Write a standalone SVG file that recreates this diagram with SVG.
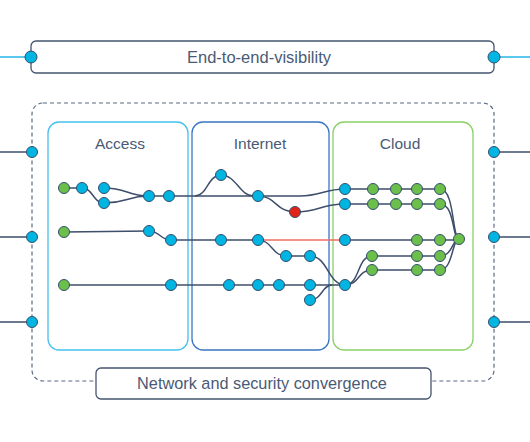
<svg xmlns="http://www.w3.org/2000/svg" width="530" height="442" viewBox="0 0 530 442">
<style>
.t{font-family:"Liberation Sans",Arial,sans-serif;fill:#4a5a76;text-anchor:middle;dominant-baseline:central}
.ln{fill:none;stroke:#3e4e6b;stroke-width:1.5}
.cy{fill:none;stroke:#29b5e8;stroke-width:1.5}
.b{fill:#00b5e2;stroke:#34506e;stroke-width:1}
.g{fill:#6cbf4a;stroke:#34506e;stroke-width:1}
.r{fill:#e2231a;stroke:#34506e;stroke-width:1}
</style>
<rect width="530" height="442" fill="#fff"/>
<g id="outer">
<rect x="32" y="103" width="462" height="278" rx="11" fill="none" stroke="#5b6b85" stroke-width="1.2" stroke-dasharray="4,3"/>
</g>
<g id="sidelines">
<path class="cy" d="M0,57H31M494,57H530"/>
<path class="ln" d="M0,152H32M0,237H32M0,322H32M494,152H530M494,237H530M494,322H530" stroke-width="1.3"/>
</g>
<g id="top-bar">
<rect x="31" y="41" width="463" height="32" rx="5" fill="#fff" stroke="#44546f" stroke-width="1.3"/>
<text class="t" x="259" y="57" font-size="16.5">End-to-end-visibility</text>
<circle class="b" cx="31" cy="57" r="6"/>
<circle class="b" cx="494" cy="57" r="6"/>
</g>
<g id="bottom-bar">
<rect x="96" y="368" width="335" height="31" rx="5" fill="#fff" stroke="#44546f" stroke-width="1.3"/>
<text class="t" x="262" y="383" font-size="16.3">Network and security convergence</text>
</g>
<g id="side-ports">
<circle class="b" cx="32" cy="152" r="5.5"/>
<circle class="b" cx="32" cy="237" r="5.5"/>
<circle class="b" cx="32" cy="322" r="5.5"/>
<circle class="b" cx="494" cy="152" r="5.5"/>
<circle class="b" cx="494" cy="237" r="5.5"/>
<circle class="b" cx="494" cy="322" r="5.5"/>
</g>
<g id="access">
<rect x="48" y="122" width="140" height="228" rx="11" fill="none" stroke="#47c1ec" stroke-width="1.3"/>
<text class="t" x="120" y="143" font-size="15.5">Access</text>
</g>
<g id="internet">
<rect x="192" y="122" width="137" height="228" rx="11" fill="none" stroke="#3a75c4" stroke-width="1.3"/>
<text class="t" x="260" y="143" font-size="15.5">Internet</text>
</g>
<g id="cloud">
<rect x="333" y="122" width="140" height="228" rx="11" fill="none" stroke="#8bd06a" stroke-width="1.3"/>
<text class="t" x="400" y="143" font-size="15.5">Cloud</text>
</g>
<g id="connectors">
<path class="ln" d="M64,188H82C93,188 93,203 104,203"/>
<path class="ln" d="M104,188C127,188 127,196 149,196"/>
<path class="ln" d="M104,203C127,203 127,196 149,196H258"/>
<path class="ln" d="M195,196C207,196 208,175 221,175C236,175 240,196 253,196"/>
<path class="ln" d="M258,196H300C320,196 325,189 345,189H440C455,189 452,239 459,239"/>
<path class="ln" d="M258,196C276,196 276,212 295,212C320,212 320,204 345,204H440C455,204 452,239 459,239"/>
<path class="ln" d="M64,232L149,231C160,231 160,240 171,240H258"/>
<path fill="none" stroke="#f26b5e" stroke-width="1.5" d="M258,240H345"/>
<path class="ln" d="M345,240H459"/>
<path class="ln" d="M258,240C272,240 272,256 286,256H310C328,256 328,285 345,285"/>
<path class="ln" d="M64,285H345"/>
<path class="ln" d="M310,300C322,300 322,285 332,285"/>
<path class="ln" d="M345,285C360,285 357,256 372,256H440C453,256 452,239 459,239"/>
<path class="ln" d="M345,285C360,285 357,270 372,270H440C453,270 452,239 459,239"/>
</g>
<g id="n-a1"><circle class="g" cx="64" cy="188" r="5.5"/></g>
<g id="n-a2"><circle class="b" cx="82" cy="188" r="5.5"/></g>
<g id="n-a3"><circle class="b" cx="104" cy="188" r="5.5"/></g>
<g id="n-a4"><circle class="b" cx="104" cy="203" r="5.5"/></g>
<g id="n-a5"><circle class="b" cx="149" cy="196" r="5.5"/></g>
<g id="n-a6"><circle class="b" cx="169" cy="196" r="5.5"/></g>
<g id="n-a7"><circle class="g" cx="64" cy="232" r="5.5"/></g>
<g id="n-a8"><circle class="b" cx="149" cy="231" r="5.5"/></g>
<g id="n-a9"><circle class="b" cx="171" cy="240" r="5.5"/></g>
<g id="n-a10"><circle class="g" cx="64" cy="285" r="5.5"/></g>
<g id="n-a11"><circle class="b" cx="171" cy="285" r="5.5"/></g>
<g id="n-i1"><circle class="b" cx="221" cy="175" r="5.5"/></g>
<g id="n-i2"><circle class="b" cx="258" cy="196" r="5.5"/></g>
<g id="n-i3"><circle class="r" cx="295" cy="212" r="5.5"/></g>
<g id="n-i4"><circle class="b" cx="221" cy="240" r="5.5"/></g>
<g id="n-i5"><circle class="b" cx="258" cy="240" r="5.5"/></g>
<g id="n-i6"><circle class="b" cx="286" cy="256" r="5.5"/></g>
<g id="n-i7"><circle class="b" cx="310" cy="256" r="5.5"/></g>
<g id="n-i8"><circle class="b" cx="229" cy="285" r="5.5"/></g>
<g id="n-i9"><circle class="b" cx="258" cy="285" r="5.5"/></g>
<g id="n-i10"><circle class="b" cx="279" cy="285" r="5.5"/></g>
<g id="n-i11"><circle class="b" cx="310" cy="285" r="5.5"/></g>
<g id="n-i12"><circle class="b" cx="310" cy="300" r="5.5"/></g>
<g id="n-c1"><circle class="b" cx="345" cy="189" r="5.5"/></g>
<g id="n-c2"><circle class="g" cx="373" cy="189" r="5.5"/></g>
<g id="n-c3"><circle class="g" cx="396" cy="189" r="5.5"/></g>
<g id="n-c4"><circle class="g" cx="417" cy="189" r="5.5"/></g>
<g id="n-c5"><circle class="g" cx="440" cy="189" r="5.5"/></g>
<g id="n-c6"><circle class="b" cx="345" cy="204" r="5.5"/></g>
<g id="n-c7"><circle class="g" cx="373" cy="204" r="5.5"/></g>
<g id="n-c8"><circle class="g" cx="396" cy="204" r="5.5"/></g>
<g id="n-c9"><circle class="g" cx="417" cy="204" r="5.5"/></g>
<g id="n-c10"><circle class="g" cx="440" cy="204" r="5.5"/></g>
<g id="n-c11"><circle class="b" cx="345" cy="240" r="5.5"/></g>
<g id="n-c12"><circle class="g" cx="417" cy="240" r="5.5"/></g>
<g id="n-c13"><circle class="g" cx="440" cy="240" r="5.5"/></g>
<g id="n-c14"><circle class="g" cx="459" cy="239" r="5.5"/></g>
<g id="n-c15"><circle class="g" cx="372" cy="256" r="5.5"/></g>
<g id="n-c16"><circle class="g" cx="417" cy="256" r="5.5"/></g>
<g id="n-c17"><circle class="g" cx="440" cy="256" r="5.5"/></g>
<g id="n-c18"><circle class="g" cx="372" cy="270" r="5.5"/></g>
<g id="n-c19"><circle class="g" cx="417" cy="270" r="5.5"/></g>
<g id="n-c20"><circle class="g" cx="440" cy="270" r="5.5"/></g>
<g id="n-c21"><circle class="b" cx="345" cy="285" r="5.5"/></g>
</svg>
